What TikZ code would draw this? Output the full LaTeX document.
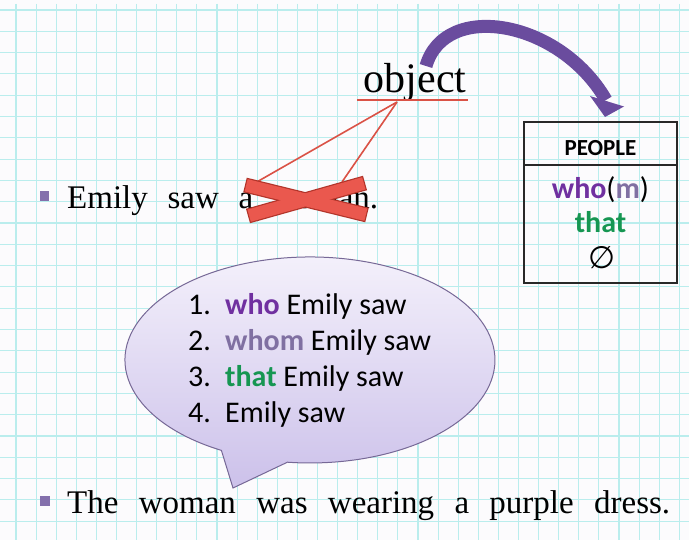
\documentclass[tikz,border=0pt]{standalone}
\usepackage{fontspec}
\setmainfont{Liberation Serif}
\newfontfamily\calfont{Carlito}
\newfontfamily\djvfont{DejaVu Sans}
\usetikzlibrary{shapes.geometric}
\definecolor{gridc}{RGB}{186,237,237}
\definecolor{bgc}{RGB}{252,251,253}
\definecolor{redl}{RGB}{218,82,70}
\definecolor{redx}{RGB}{234,88,78}
\definecolor{redxd}{RGB}{178,52,42}
\definecolor{arrowc}{RGB}{106,76,158}
\definecolor{whoc}{RGB}{112,48,160}
\definecolor{whomc}{RGB}{128,112,162}
\definecolor{thatc}{RGB}{22,150,82}
\definecolor{bulc}{RGB}{132,112,172}
\definecolor{bubtop}{RGB}{246,243,252}
\definecolor{bubbot}{RGB}{204,193,234}
\definecolor{bubline}{RGB}{118,104,150}
\definecolor{tabc}{RGB}{40,40,40}
\tikzset{
  serifbig/.style={font=\fontsize{33}{40}\selectfont, inner sep=0pt},
  listtxt/.style={font=\calfont\fontsize{30}{36}\selectfont, inner sep=0pt, anchor=base west},
  tabtxt/.style={font=\calfont\fontsize{30}{36}\selectfont, inner sep=0pt, anchor=base},
  bulletbox/.style={fill=bulc, minimum width=9.5pt, minimum height=9.5pt, inner sep=0pt},
  tabbox/.style={draw=tabc, line width=1.3pt, minimum width=153pt, inner sep=0pt},
  redline/.style={redl, line width=1.6pt},
}
\begin{document}
\begin{tikzpicture}[x=1pt,y=1pt]
\useasboundingbox (0,0) rectangle (689,-540);
\fill[bgc] (0,0) rectangle (689,-540);
% grid
\foreach \i in {0,...,33} \draw[gridc, line width=1.1pt] ({16+20.1*\i},-4) -- ({16+20.1*\i},-540);
\foreach \j in {0,...,25} \draw[gridc, line width=1.1pt] (0,{-10-21.3*\j}) -- (689,{-10-21.3*\j});

% speech bubble
\coordinate (tip) at (233,-488);
\coordinate (tailA) at (221.4,-450.4);
\path[draw=bubline, line width=1pt, top color=bubtop, bottom color=bubbot]
  (tip) -- (tailA) arc[start angle=241.4, end angle=-97, x radius=185pt, y radius=103pt] -- cycle;

\node[listtxt] (n1) at (188,-315) {1.};
\node[listtxt] (n2) at (188,-351) {2.};
\node[listtxt] (n3) at (188,-387) {3.};
\node[listtxt] (n4) at (188,-423) {4.};
\node[listtxt] (w1) at (225,-315) {\textcolor{whoc}{\bfseries who} Emily saw};
\node[listtxt] (w2) at (225,-351) {\textcolor{whomc}{\bfseries whom} Emily saw};
\node[listtxt] (w3) at (225,-387) {\textcolor{thatc}{\bfseries that} Emily saw};
\node[listtxt] (w4) at (225,-423) {Emily saw};

% object
\node[font=\fontsize{42}{50}\selectfont, inner sep=0pt, anchor=base] (obj) at (415,-93) {object};
\coordinate (ulL) at (357,-100);
\coordinate (ulR) at (468,-100);
\draw[redl, line width=2.5pt] (ulL) -- (ulR);

% sentence 1
\node[bulletbox] (b1) at (44.5,-196) {};
\node[serifbig, anchor=base west] (s1) at (67,-209) {\makebox[311pt][s]{Emily saw a woman.}};

% red lines and X
\coordinate (apex) at (397,-102);
\coordinate (t1) at (255,-183);
\coordinate (t2) at (342,-182);
\draw[redline] (apex) -- (t1);
\draw[redline] (apex) -- (t2);
\coordinate (xa1) at (245,-185);
\coordinate (xa2) at (367,-215);
\coordinate (xb1) at (248,-216);
\coordinate (xb2) at (365,-183);
\draw[redxd, line width=15pt] (xa1) -- (xa2);
\draw[redxd, line width=15pt] (xb1) -- (xb2);
\draw[redx, line width=12.6pt, shorten <=1.2pt, shorten >=1.2pt] (xa1) -- (xa2);
\draw[redx, line width=12.6pt, shorten <=1.2pt, shorten >=1.2pt] (xb1) -- (xb2);

% curved arrow
\coordinate (as) at (426,-66);
\coordinate (ae) at (606,-100);
\draw[arrowc, line width=13pt] (as) .. controls (445,0) and (560,-20) .. (ae);
\fill[arrowc] (590,-96) -- (624,-106.5) -- (605,-117) -- cycle;

% table
\node[tabbox, minimum height=43pt] (thead) at (600.5,-143.5) {};
\node[tabbox, minimum height=118pt] (tbody) at (600.5,-224) {};
\node[font=\calfont\bfseries\fontsize{23}{28}\selectfont, inner sep=0pt, anchor=base] (people) at (600.5,-156) {PEOPLE};
\node[tabtxt] (whom) at (600.5,-199) {\textcolor{whoc}{\bfseries who}(\textcolor{whomc}{\bfseries m})};
\node[tabtxt] (that) at (600.5,-233) {\textcolor{thatc}{\bfseries that}};
\node[font=\djvfont\fontsize{31}{36}\selectfont, inner sep=0pt] (empty) at (602,-258) {∅};

% sentence 2
\node[bulletbox] (b2) at (45,-501) {};
\node[serifbig, anchor=base west] (s2) at (67,-513) {\makebox[603pt][s]{The woman was wearing a purple dress.}};
\end{tikzpicture}
\end{document}
